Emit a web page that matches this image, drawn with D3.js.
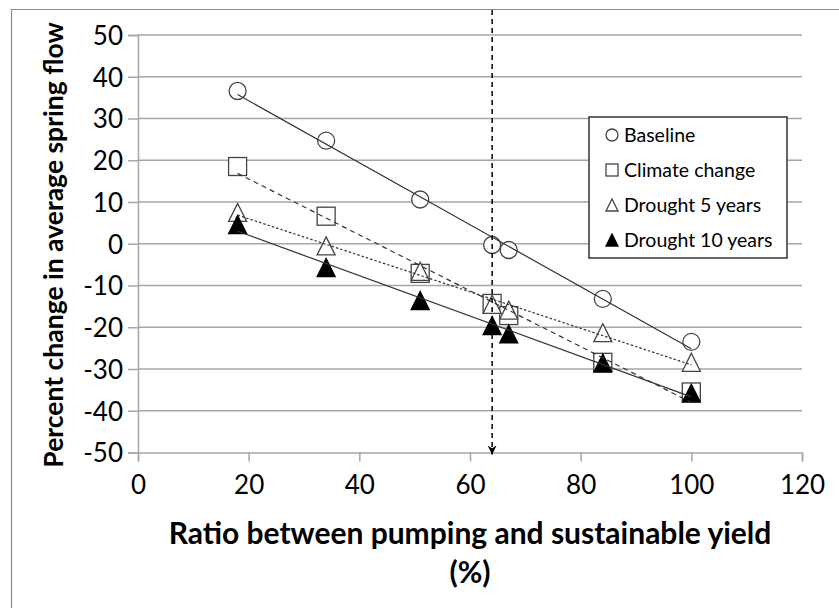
<!DOCTYPE html>
<html>
<head>
<meta charset="utf-8">
<script src="https://cdn.jsdelivr.net/npm/d3@7"></script>
<style>
  html, body { margin: 0; padding: 0; background: #fff; overflow: hidden; }
  svg { display: block; }
  text { font-family: Lato, "Open Sans", sans-serif; fill: #000; }
</style>
</head>
<body>
<svg id="chart"></svg>
<script>
// Data
const ratios = [18, 34, 51, 64, 67, 84, 100];
const baseline = [36.6, 24.7, 10.6, -0.3, -1.5, -13.2, -23.5];
const climateChange = [18.5, 6.6, -7.1, -14.3, -17.2, -28.4, -35.5];
const drought5 = [7.5, -0.5, -6.6, -14.5, -15.9, -21.3, -28.4];
const drought10 = [4.6, -5.7, -13.6, -19.6, -21.6, -28.6, -35.8];
const seriesNames = ["Baseline", "Climate change", "Drought 5 years", "Drought 10 years"];
const xTicks = [0, 20, 40, 60, 80, 100, 120];
const yTicks = [50, 40, 30, 20, 10, 0, -10, -20, -30, -40, -50];
const markerLine = 64;

const width = 839;
const height = 608;
const margin = { top: 35, right: 37, bottom: 155.5, left: 138 };
const innerWidth = width - margin.left - margin.right;
const innerHeight = height - margin.top - margin.bottom;

const svg = d3.select("#chart")
    .attr("width", width)
    .attr("height", height);

// outer frame (only left and top edges fall inside the picture)
svg.append("path")
    .attr("d", `M11.5,${height}V9.5H${width}`)
    .attr("fill", "none")
    .attr("stroke", "#8c8c8c")
    .attr("stroke-width", 1.2);

const g = svg.append("g")
    .attr("transform", `translate(${margin.left}, ${margin.top})`);

const x = d3.scaleLinear().domain([0, 120]).range([0, innerWidth]);
const y = d3.scaleLinear().domain([-50, 50]).range([innerHeight, 0]);

// horizontal gridlines
g.append("g")
    .selectAll("line")
    .data(yTicks.filter(d => d !== -50))
    .join("line")
    .attr("x1", 0).attr("x2", innerWidth)
    .attr("y1", d => y(d)).attr("y2", d => y(d))
    .attr("stroke", "#a6a6a6")
    .attr("stroke-width", 1.5);

// axes
const xAxis = g.append("g")
    .attr("transform", `translate(0, ${innerHeight})`)
    .call(d3.axisBottom(x).tickValues(xTicks).tickFormat(d => String(d)).tickSize(9).tickPadding(14));
const yAxis = g.append("g")
    .call(d3.axisLeft(y).tickValues(yTicks).tickFormat(d => String(d)).tickSize(10).tickPadding(5));

[xAxis, yAxis].forEach(a => {
  a.attr("font-family", "Lato, sans-serif").attr("font-size", 26);
  a.select(".domain").attr("stroke", "#a6a6a6").attr("stroke-width", 1.5);
  a.selectAll(".tick line").attr("stroke", "#a6a6a6").attr("stroke-width", 1.5);
  a.selectAll("text").attr("fill", "#000");
});
yAxis.selectAll("text").attr("dy", "0.36em");

// markers
const triPath = (s) => `M0,${-s / 2}L${s / 2},${s / 2}L${-s / 2},${s / 2}Z`;
const markers = [
  { sym: "circle", fill: "#fff" },
  { sym: "square", fill: "#fff" },
  { sym: "triangle", fill: "#fff" },
  { sym: "triangle", fill: "#000" }
];
function drawMarker(sel, type, size, fill) {
  if (type === "circle") {
    sel.append("circle").attr("r", size / 2);
  } else if (type === "square") {
    sel.append("rect").attr("x", -size / 2).attr("y", -size / 2)
      .attr("width", size).attr("height", size);
  } else {
    sel.append("path").attr("d", triPath(size));
  }
  sel.selectAll("*")
    .attr("fill", fill)
    .attr("stroke", fill === "#000" ? "#000" : "#444")
    .attr("stroke-width", 1.3);
}

const allSeries = [baseline, climateChange, drought5, drought10];
const dashes = [null, "5,4", "2.5,2", null];
const sizes = [17, 18, 18, 18];

// linear trendline (least squares), as the spreadsheet draws it
function fit(xs, ys) {
  const mx = d3.mean(xs), my = d3.mean(ys);
  const b = d3.sum(xs, (v, i) => (v - mx) * (ys[i] - my)) / d3.sum(xs, v => (v - mx) ** 2);
  return v => my + b * (v - mx);
}

allSeries.forEach((vals, s) => {
  const pts = g.append("g");
  ratios.forEach((r, i) => {
    const m = pts.append("g").attr("transform", `translate(${x(r)}, ${y(vals[i])})`);
    drawMarker(m, markers[s].sym, sizes[s], markers[s].fill);
  });
});

allSeries.forEach((vals, s) => {
  const f = fit(ratios, vals);
  const x0 = d3.min(ratios), x1 = d3.max(ratios);
  g.append("line")
    .attr("x1", x(x0)).attr("y1", y(f(x0)))
    .attr("x2", x(x1)).attr("y2", y(f(x1)))
    .attr("stroke", "#333")
    .attr("stroke-width", 1.2)
    .attr("stroke-dasharray", dashes[s]);
});

// vertical dashed arrow at ratio 64
svg.append("defs").append("marker")
    .attr("id", "arrow")
    .attr("viewBox", "0 0 10 10")
    .attr("refX", 10).attr("refY", 5)
    .attr("markerWidth", 6).attr("markerHeight", 6)
    .attr("orient", "auto")
    .append("path")
    .attr("d", "M0,0L10,5L0,10L3,5Z")
    .attr("fill", "#000");

g.append("line")
    .attr("x1", x(markerLine)).attr("x2", x(markerLine))
    .attr("y1", -25).attr("y2", y(-50) + 2)
    .attr("stroke", "#000")
    .attr("stroke-width", 1.5)
    .attr("stroke-dasharray", "5,4")
    .attr("marker-end", "url(#arrow)");

// legend
const legend = svg.append("g").attr("transform", "translate(589, 117)");
legend.append("rect")
    .attr("width", 198).attr("height", 141)
    .attr("fill", "#fff")
    .attr("stroke", "#333")
    .attr("stroke-width", 1.5);
seriesNames.forEach((name, i) => {
  const row = legend.append("g").attr("transform", `translate(23, ${18 + i * 35})`);
  drawMarker(row.append("g"), markers[i].sym, 12, markers[i].fill);
  row.append("text")
    .attr("x", 12).attr("dy", "0.36em")
    .attr("font-size", 19.5)
    .text(name);
});

// axis titles
svg.append("text")
    .attr("x", 470).attr("y", 533)
    .attr("text-anchor", "middle").attr("dy", "0.36em")
    .attr("font-size", 30).attr("font-weight", "bold")
    .text("Ratio between pumping and sustainable yield");
svg.append("text")
    .attr("x", 470).attr("y", 572)
    .attr("text-anchor", "middle").attr("dy", "0.36em")
    .attr("font-size", 30).attr("font-weight", "bold")
    .text("(%)");
svg.append("text")
    .attr("transform", "translate(53, 245) rotate(-90)")
    .attr("text-anchor", "middle").attr("dy", "0.36em")
    .attr("font-size", 26.5).attr("font-weight", "bold")
    .text("Percent change in average spring flow");
</script>
</body>
</html>
